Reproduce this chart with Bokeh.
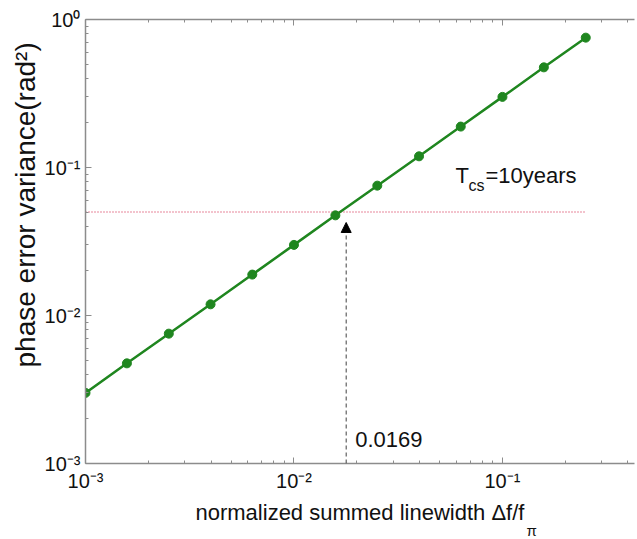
from bokeh.plotting import figure
from bokeh.models import (Range1d, LogAxis, FixedTicker, Label, Arrow, NormalHead,
                          ColumnDataSource, Title)
from bokeh.embed import file_html
from bokeh.resources import INLINE

# ---- data ----
linewidth = [0.001, 0.00158, 0.00251, 0.00398, 0.00631, 0.01, 0.0158,
             0.0251, 0.0398, 0.0631, 0.1, 0.158, 0.251]
phase_var = [0.003, 0.00475, 0.00754, 0.0119, 0.0189, 0.030, 0.0475,
             0.0754, 0.119, 0.189, 0.30, 0.475, 0.754]
threshold_y = 0.05
threshold_x = [0.001, 0.25]
arrow_x = 0.0178
arrow_top = 0.0425
arrow_text = "0.0169"
major_ticks = [1e-3, 1e-2, 1e-1, 1e0]
tick_labels = {1e-3: "10\u207b\u00b3", 1e-2: "10\u207b\u00b2", 1e-1: "10\u207b\u00b9", 1e0: "10\u2070"}
minor_ticks = [m * d for d in [1e-3, 1e-2, 1e-1] for m in range(2, 10)]

FONT = "Liberation Sans"
AXIS_COLOR = "#8c8c8c"
GREEN = "#1f861f"
TEXT = "#111111"

p = figure(frame_width=549, frame_height=444, x_axis_type="log", y_axis_type="log",
           x_range=Range1d(1e-3, 0.43), y_range=Range1d(1e-3, 1.0),
           output_backend="svg", toolbar_location=None,
           min_border_left=85, min_border_right=3, min_border_top=19, min_border_bottom=76)
p.outline_line_color = None
p.xgrid.visible = False
p.ygrid.visible = False
p.background_fill_color = "white"
p.border_fill_color = "white"

top_axis = LogAxis()
p.add_layout(top_axis, "above")
bottom_axis = p.below[0]
left_axis = p.left[0]

def style(ax, labels=True):
    ax.ticker = FixedTicker(ticks=major_ticks, minor_ticks=minor_ticks)
    ax.axis_line_color = AXIS_COLOR
    ax.axis_line_width = 1.5
    ax.major_tick_line_color = AXIS_COLOR
    ax.minor_tick_line_color = AXIS_COLOR
    ax.major_tick_in = 6
    ax.major_tick_out = 0
    ax.minor_tick_in = 3
    ax.minor_tick_out = 0
    ax.major_label_text_font = FONT
    ax.major_label_text_color = TEXT
    if labels:
        ax.major_label_overrides = tick_labels
        ax.major_label_text_font_size = "20px"
        ax.major_label_standoff = 5
    else:
        ax.major_label_overrides = {t: "" for t in major_ticks}
        ax.major_label_text_font_size = "8px"
        ax.major_label_standoff = 0

style(bottom_axis)
style(left_axis)
style(top_axis, labels=False)
bottom_axis.major_label_standoff = 6

# axis titles (outside the frame)
p.add_layout(Title(text="normalized summed linewidth \u0394f/f", align="left", offset=110,
                   text_font=FONT, text_font_size="22px", text_font_style="normal",
                   text_color=TEXT, standoff=6), "below")
p.add_layout(Title(text="\u03c0", align="left", offset=441,
                   text_font=FONT, text_font_size="15px", text_font_style="normal",
                   text_color=TEXT, standoff=-15), "below")
p.add_layout(Title(text="phase error variance(rad\u00b2)", align="left", offset=96,
                   text_font=FONT, text_font_size="28px", text_font_style="normal",
                   text_color=TEXT, standoff=1), "left")

# threshold line
p.line(threshold_x, [threshold_y, threshold_y], line_color="#e0607c",
       line_width=1.5, line_dash="1 2")

# main curve
src = ColumnDataSource(dict(x=linewidth, y=phase_var))
p.line("x", "y", source=src, line_color=GREEN, line_width=2.5)
p.scatter("x", "y", source=src, size=9, fill_color=GREEN, line_color=GREEN)

# dashed arrow
p.add_layout(Arrow(x_start=arrow_x, y_start=1e-3, x_end=arrow_x, y_end=arrow_top,
                   line_color="#404040", line_width=1, line_dash="4 3",
                   end=NormalHead(size=10, fill_color="black", line_color="black")))

def lab(text, x, xo, yo, size):
    p.add_layout(Label(x=x, y=1e-3, x_offset=xo, y_offset=yo, text=text,
                       text_font=FONT, text_font_size=size, text_color=TEXT,
                       text_align="left", text_baseline="alphabetic"))

lab(arrow_text, arrow_x, 9, 24, "22px")
lab("T", 1e-3, 370, 288, "22px")
lab("cs", 1e-3, 383, 278, "16px")
lab("=10years", 1e-3, 400, 288, "22px")

open("out.html", "w").write(file_html(p, INLINE))
